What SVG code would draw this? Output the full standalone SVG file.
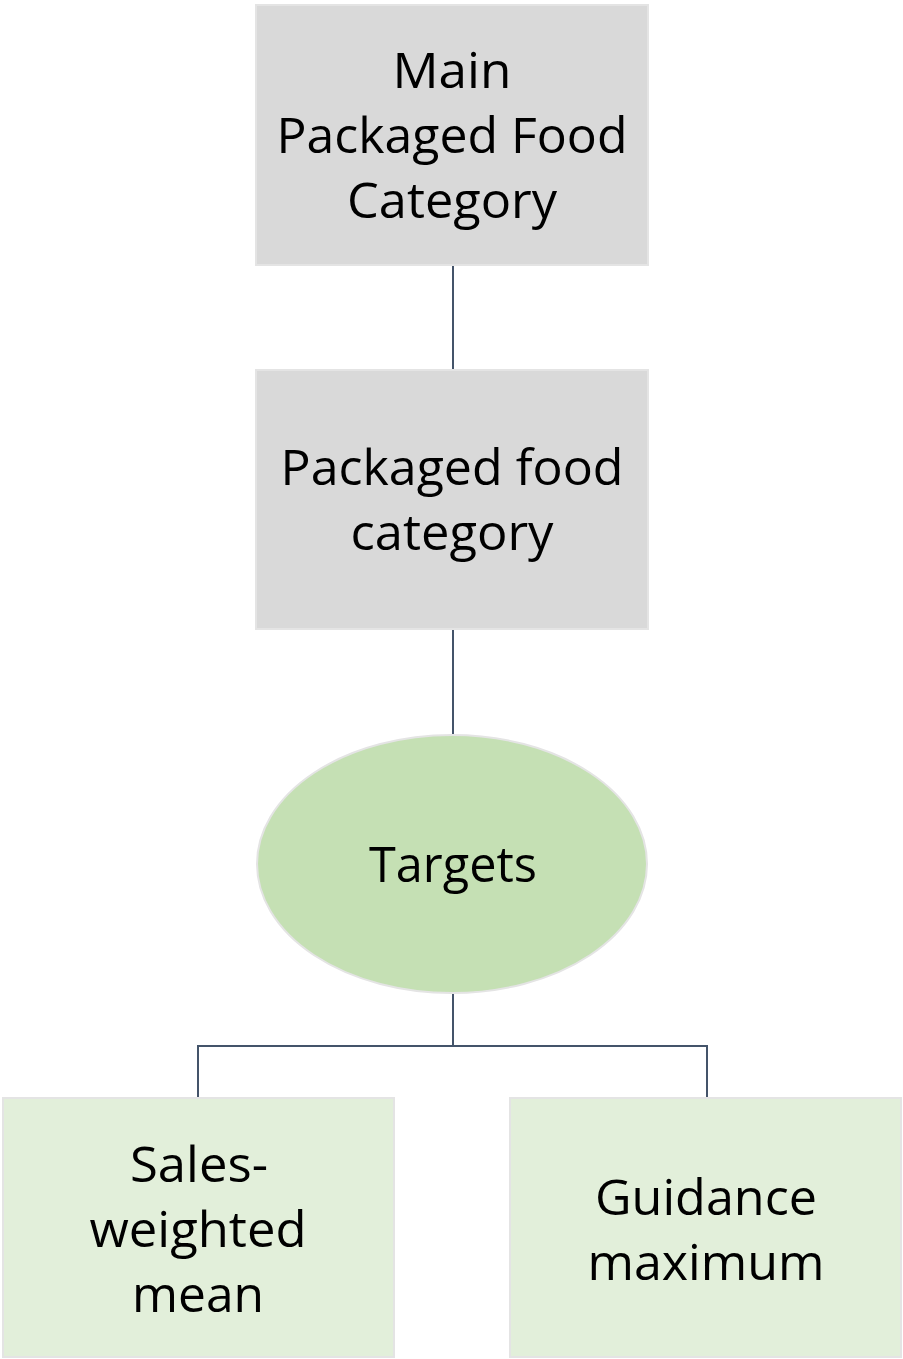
<svg xmlns="http://www.w3.org/2000/svg" width="903" height="1359" viewBox="0 0 903 1359">
<style>
.gray{fill:#d9d9d9;stroke:#e4e4e4;stroke-width:2}
.green{fill:#e2efda;stroke:#e4e4e4;stroke-width:2}
.ell{fill:#c5e0b4;stroke:#e4e4e4;stroke-width:2}
.lbl{font-family:"Open Sans","Liberation Sans",sans-serif;font-size:50px;fill:#000;text-anchor:middle}
.conn{fill:none;stroke:#44546a;stroke-width:2}
</style>
<rect width="903" height="1359" fill="#fff"/>
<g id="connectors">
<line class="conn" x1="453" y1="265" x2="453" y2="370"/>
<line class="conn" x1="453" y1="629" x2="453" y2="735"/>
<polyline class="conn" points="453,993 453,1046"/>
<polyline class="conn" points="198,1098 198,1046 707,1046 707,1098"/>
</g>
<g id="main">
<rect class="gray" x="256" y="5" width="392" height="260"/>
<text class="lbl" x="452" y="88" textLength="119" lengthAdjust="spacingAndGlyphs">Main</text>
<text class="lbl" x="452" y="153" textLength="351" lengthAdjust="spacingAndGlyphs">Packaged Food</text>
<text class="lbl" x="452" y="218" textLength="210" lengthAdjust="spacingAndGlyphs">Category</text>
</g>
<g id="category">
<rect class="gray" x="256" y="370" width="392" height="259"/>
<text class="lbl" x="452" y="485" textLength="343" lengthAdjust="spacingAndGlyphs">Packaged food</text>
<text class="lbl" x="452" y="550" textLength="203" lengthAdjust="spacingAndGlyphs">category</text>
</g>
<g id="targets">
<ellipse class="ell" cx="452" cy="864" rx="195" ry="129"/>
<text class="lbl" x="453" y="882" textLength="168" lengthAdjust="spacingAndGlyphs">Targets</text>
</g>
<g id="sales">
<rect class="green" x="3" y="1098" width="391" height="259"/>
<text class="lbl" x="199" y="1182" textLength="138" lengthAdjust="spacingAndGlyphs">Sales-</text>
<text class="lbl" x="198" y="1247" textLength="217" lengthAdjust="spacingAndGlyphs">weighted</text>
<text class="lbl" x="198" y="1312" textLength="132" lengthAdjust="spacingAndGlyphs">mean</text>
</g>
<g id="guidance">
<rect class="green" x="510" y="1098" width="391" height="259"/>
<text class="lbl" x="706" y="1215" textLength="222" lengthAdjust="spacingAndGlyphs">Guidance</text>
<text class="lbl" x="706" y="1280" textLength="237" lengthAdjust="spacingAndGlyphs">maximum</text>
</g>
</svg>
